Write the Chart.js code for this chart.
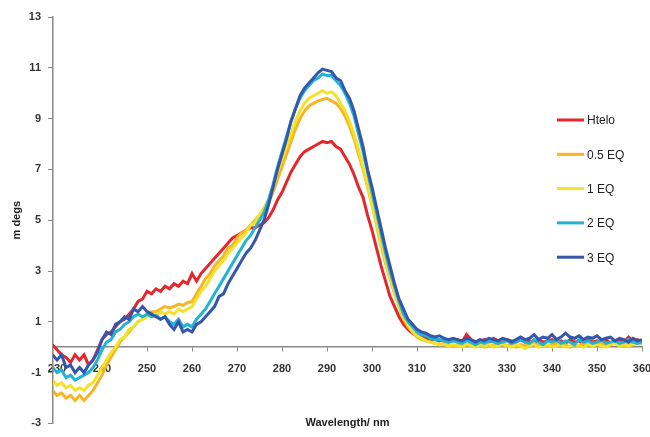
<!DOCTYPE html>
<html>
<head>
<meta charset="utf-8">
<script src="https://cdn.jsdelivr.net/npm/chart.js@4.4.0/dist/chart.umd.min.js"></script>
<style>
  body { margin: 0; background: #fff; }
  #wrap { width: 650px; height: 437px; position: relative; }
</style>
</head>
<body>
<div id="wrap"><canvas id="cdChart"></canvas></div>
<script>
// wavelength grid, 1 nm steps
const wlStart = 229, wlEnd = 360;
const wavelengths = [];
for (let w = wlStart; w <= wlEnd; w++) wavelengths.push(w);

const seriesNames = ['Htelo', '0.5 EQ', '1 EQ', '2 EQ', '3 EQ'];
const seriesColors = ['#e5262b', '#f7b526', '#f2e22a', '#22b2d3', '#3456ad'];

// CD values (m degs), 229..360 nm
const htelo = [
  0.1,
  -0.1, -0.3, -0.4, -0.6, -0.3, -0.5, -0.3, -0.7, -0.5, -0.1,
  0.3, 0.5, 0.6, 0.8, 1.0, 1.1, 1.3, 1.5, 1.8, 1.9,
  2.2, 2.1, 2.3, 2.2, 2.4, 2.3, 2.5, 2.4, 2.6, 2.5,
  2.9, 2.6, 2.9, 3.1, 3.3, 3.5, 3.7, 3.9, 4.1, 4.3,
  4.4, 4.5, 4.6, 4.7, 4.7, 4.8, 4.9, 5.1, 5.4, 5.8,
  6.1, 6.5, 6.9, 7.2, 7.5, 7.7, 7.8, 7.9, 8.0, 8.1,
  8.05, 8.1, 7.9, 7.8, 7.5, 7.2, 6.8, 6.3, 5.9, 5.2,
  4.6, 3.9, 3.2, 2.6, 2.0, 1.6, 1.2, 0.9, 0.7, 0.55,
  0.45, 0.4, 0.35, 0.3, 0.3, 0.25, 0.3, 0.2, 0.25, 0.3,
  0.2, 0.5, 0.3, 0.2, 0.25, 0.3, 0.2, 0.35, 0.25, 0.2,
  0.3, 0.25, 0.2, 0.3, 0.2, 0.25, 0.15, 0.3, 0.2, 0.25,
  0.3, 0.2, 0.25, 0.15, 0.3, 0.2, 0.25, 0.1, 0.3, 0.2,
  0.25, 0.2, 0.3, 0.15, 0.25, 0.3, 0.2, 0.4, 0.25, 0.3, 0.2
];
const eq05 = [
  -1.7,
  -1.9, -1.8, -2.0, -1.9, -2.1, -1.9, -2.1, -1.9, -1.7, -1.4,
  -1.1, -0.7, -0.4, -0.1, 0.2, 0.4, 0.6, 0.8, 1.0, 1.1,
  1.3, 1.4, 1.4, 1.5, 1.6, 1.55, 1.6, 1.7, 1.65, 1.75,
  1.8, 2.1, 2.4, 2.7, 2.9, 3.2, 3.4, 3.6, 3.9, 4.0,
  4.3, 4.5, 4.6, 4.8, 5.0, 5.2, 5.4, 5.7, 6.1, 6.6,
  7.1, 7.6, 8.1, 8.6, 9.0, 9.3, 9.5, 9.6, 9.7, 9.75,
  9.8, 9.7, 9.6, 9.4, 9.1, 8.7, 8.2, 7.6, 7.0, 6.3,
  5.6, 4.8, 4.0, 3.3, 2.7, 2.1, 1.6, 1.1, 0.8, 0.6,
  0.4, 0.3, 0.25, 0.2, 0.15, 0.1, 0.15, 0.1, 0.05, 0.1,
  0.05, 0.1, 0.15, 0.05, 0.1, 0.0, 0.1, 0.05, 0.1, 0.15,
  0.05, 0.1, 0.0, 0.1, 0.05, 0.1, 0.15, 0.05, 0.1, 0.05,
  0.1, 0.15, 0.05, 0.1, 0.0, 0.1, 0.05, 0.15, 0.1, 0.05,
  0.1, 0.15, 0.05, 0.1, 0.2, 0.1, 0.05, 0.15, 0.1, 0.2, 0.15
];
const eq1 = [
  -1.3,
  -1.5, -1.4, -1.6, -1.5, -1.7, -1.6, -1.7, -1.5, -1.4, -1.1,
  -0.8, -0.5, -0.2, 0.0, 0.3, 0.4, 0.7, 0.8, 1.0, 1.1,
  1.2, 1.3, 1.2, 1.4, 1.3, 1.4, 1.3, 1.5, 1.4, 1.5,
  1.6, 1.9, 2.2, 2.4, 2.7, 3.0, 3.2, 3.4, 3.7, 3.9,
  4.1, 4.3, 4.5, 4.8, 4.9, 5.2, 5.5, 5.8, 6.3, 6.9,
  7.4, 7.9, 8.4, 8.9, 9.3, 9.6, 9.8, 9.9, 10.0, 10.1,
  10.0, 10.05, 9.9, 9.6, 9.3, 8.9, 8.4, 7.8, 7.1, 6.4,
  5.6, 4.9, 4.1, 3.4, 2.8, 2.2, 1.6, 1.2, 0.9, 0.6,
  0.45, 0.35, 0.25, 0.2, 0.15, 0.1, 0.1, 0.05, 0.1, 0.05,
  0.0, 0.1, 0.05, 0.0, 0.1, 0.05, 0.1, 0.0, 0.05, 0.1,
  0.05, 0.0, 0.1, 0.05, -0.05, 0.05, 0.1, 0.0, 0.05, 0.1,
  0.0, 0.05, 0.1, 0.0, 0.05, 0.1, 0.05, 0.0, 0.1, 0.05,
  0.1, 0.05, 0.0, 0.1, 0.15, 0.05, 0.1, 0.05, 0.1, 0.15, 0.1
];
const eq2 = [
  -0.8,
  -1.0, -0.9, -1.2, -1.1, -1.3, -1.2, -1.1, -1.0, -0.8, -0.5,
  -0.1, 0.2, 0.3, 0.6, 0.7, 0.9, 1.0, 1.2, 1.3, 1.2,
  1.3, 1.2, 1.25, 1.1, 1.2, 1.0, 0.9, 1.1, 0.8, 0.9,
  0.8, 1.1, 1.3, 1.5, 1.8, 2.1, 2.4, 2.7, 3.0, 3.3,
  3.6, 3.9, 4.2, 4.4, 4.7, 5.0, 5.3, 5.8, 6.4, 7.1,
  7.7, 8.3, 8.9, 9.4, 9.8, 10.1, 10.3, 10.5, 10.6, 10.75,
  10.7, 10.7, 10.5, 10.3, 10.0, 9.6, 9.1, 8.4, 7.7, 6.9,
  6.1, 5.3, 4.5, 3.7, 3.0, 2.4, 1.8, 1.3, 1.0, 0.8,
  0.6, 0.5, 0.45, 0.35, 0.3, 0.3, 0.25, 0.2, 0.25, 0.2,
  0.15, 0.25, 0.2, 0.1, 0.2, 0.15, 0.25, 0.2, 0.15, 0.2,
  0.25, 0.15, 0.2, 0.3, 0.2, 0.15, 0.3, 0.2, 0.1, 0.25,
  0.2, 0.3, 0.15, 0.25, 0.2, 0.1, 0.3, 0.2, 0.25, 0.15,
  0.2, 0.3, 0.15, 0.2, 0.25, 0.15, 0.2, 0.3, 0.2, 0.15, 0.2
];
const eq3 = [
  -0.3,
  -0.5, -0.3, -0.8, -0.7, -1.0, -0.8, -1.0, -0.7, -0.5, -0.2,
  0.3, 0.6, 0.5, 0.9, 1.0, 1.2, 1.1, 1.5, 1.4, 1.6,
  1.4, 1.3, 1.2, 1.1, 1.2, 0.9, 0.7, 1.0, 0.6, 0.7,
  0.6, 0.9, 1.0, 1.2, 1.4, 1.6, 2.0, 2.1, 2.5, 2.8,
  3.1, 3.4, 3.7, 3.9, 4.2, 4.6, 5.0, 5.6, 6.3, 7.0,
  7.6, 8.2, 8.9, 9.4, 9.9, 10.2, 10.4, 10.6, 10.8, 10.95,
  10.9, 10.85, 10.6, 10.5, 10.1, 9.8, 9.3, 8.6, 7.9, 7.0,
  6.3, 5.5, 4.7, 3.9, 3.2, 2.5, 1.9, 1.5, 1.1, 0.9,
  0.7, 0.6, 0.55, 0.45, 0.4, 0.45, 0.35, 0.3, 0.35, 0.3,
  0.25, 0.35, 0.3, 0.2, 0.3, 0.25, 0.35, 0.3, 0.25, 0.35,
  0.3, 0.2, 0.3, 0.4, 0.3, 0.35, 0.5, 0.3, 0.4, 0.35,
  0.5, 0.3, 0.4, 0.55, 0.4, 0.35, 0.45, 0.3, 0.4, 0.35,
  0.45, 0.3, 0.35, 0.4, 0.25, 0.35, 0.3, 0.2, 0.35, 0.25, 0.3
];
const seriesValues = [htelo, eq05, eq1, eq2, eq3];

const xTicks = [230, 240, 250, 260, 270, 280, 290, 300, 310, 320, 330, 340, 350, 360];
const yTicks = [-3, -1, 1, 3, 5, 7, 9, 11, 13];

const tickFont = { family: '"Liberation Sans", Arial, sans-serif', size: 11, weight: 'bold' };

// legend drawn inside the plot, like the Excel original
const sideLegend = {
  id: 'sideLegend',
  afterDraw(chart) {
    const ctx = chart.ctx;
    ctx.save();
    ctx.font = '12px "Liberation Sans", Arial, sans-serif';
    ctx.textBaseline = 'middle';
    chart.data.datasets.forEach((ds, i) => {
      const y = 120 + i * 34.3;
      ctx.strokeStyle = ds.borderColor;
      ctx.lineWidth = 3;
      ctx.beginPath();
      ctx.moveTo(557, y);
      ctx.lineTo(584, y);
      ctx.stroke();
      ctx.fillStyle = '#222';
      ctx.fillText(ds.label, 587, y + 1);
    });
    ctx.restore();
  }
};

const datasets = seriesNames.map((name, i) => ({
  label: name,
  data: wavelengths.map((w, j) => ({ x: w, y: seriesValues[i][j] })),
  borderColor: seriesColors[i],
  borderWidth: 3,
  pointRadius: 0,
  tension: 0,
  fill: false,
  order: seriesNames.length - i
}));

// keep the end labels from pushing the plot area in
function noSidePadding(scale) {
  scale.paddingLeft = 0;
  scale.paddingRight = 0;
}

new Chart(document.getElementById('cdChart'), {
  type: 'line',
  data: { datasets: datasets },
  options: {
    responsive: true,
    maintainAspectRatio: false,
    animation: false,
    layout: { padding: { top: 17, right: 8, left: 0, bottom: 0 } },
    plugins: {
      legend: { display: false },
      tooltip: { enabled: false }
    },
    scales: {
      x: {
        type: 'linear',
        position: { y: 0 },
        min: 229.1,
        max: 360,
        afterBuildTicks: (scale) => { scale.ticks = xTicks.map(v => ({ value: v })); },
        afterFit: noSidePadding,
        ticks: {
          autoSkip: false,
          maxRotation: 0,
          padding: 11,
          color: '#333',
          font: tickFont,
          callback: (v) => String(v)
        },
        grid: { drawOnChartArea: false, drawTicks: true, tickLength: 4, color: '#888' },
        border: { display: true, color: '#888', width: 1.5 }
      },
      xb: {
        type: 'linear',
        axis: 'x',
        position: 'bottom',
        ticks: { display: false },
        grid: { display: false },
        border: { display: false },
        afterFit: (scale) => { scale.height = 6; noSidePadding(scale); },
        title: {
          display: true,
          text: 'Wavelength/ nm',
          color: '#222',
          padding: { top: 0, bottom: 0 },
          font: { family: '"Liberation Sans", Arial, sans-serif', size: 11, weight: 'bold' }
        }
      },
      y: {
        type: 'linear',
        position: 'left',
        min: -3,
        max: 13,
        afterBuildTicks: (scale) => { scale.ticks = yTicks.map(v => ({ value: v })); },
        afterFit: (scale) => { scale.width = 53; },
        ticks: { padding: 7, color: '#333', font: tickFont },
        grid: { drawOnChartArea: false, drawTicks: true, tickLength: 5, color: '#888' },
        border: { display: true, color: '#888', width: 1.5 },
        title: {
          display: true,
          text: 'm degs',
          color: '#222',
          padding: { top: 10, bottom: 0 },
          font: { family: '"Liberation Sans", Arial, sans-serif', size: 11, weight: 'bold' }
        }
      }
    }
  },
  plugins: [sideLegend]
});
</script>
</body>
</html>
